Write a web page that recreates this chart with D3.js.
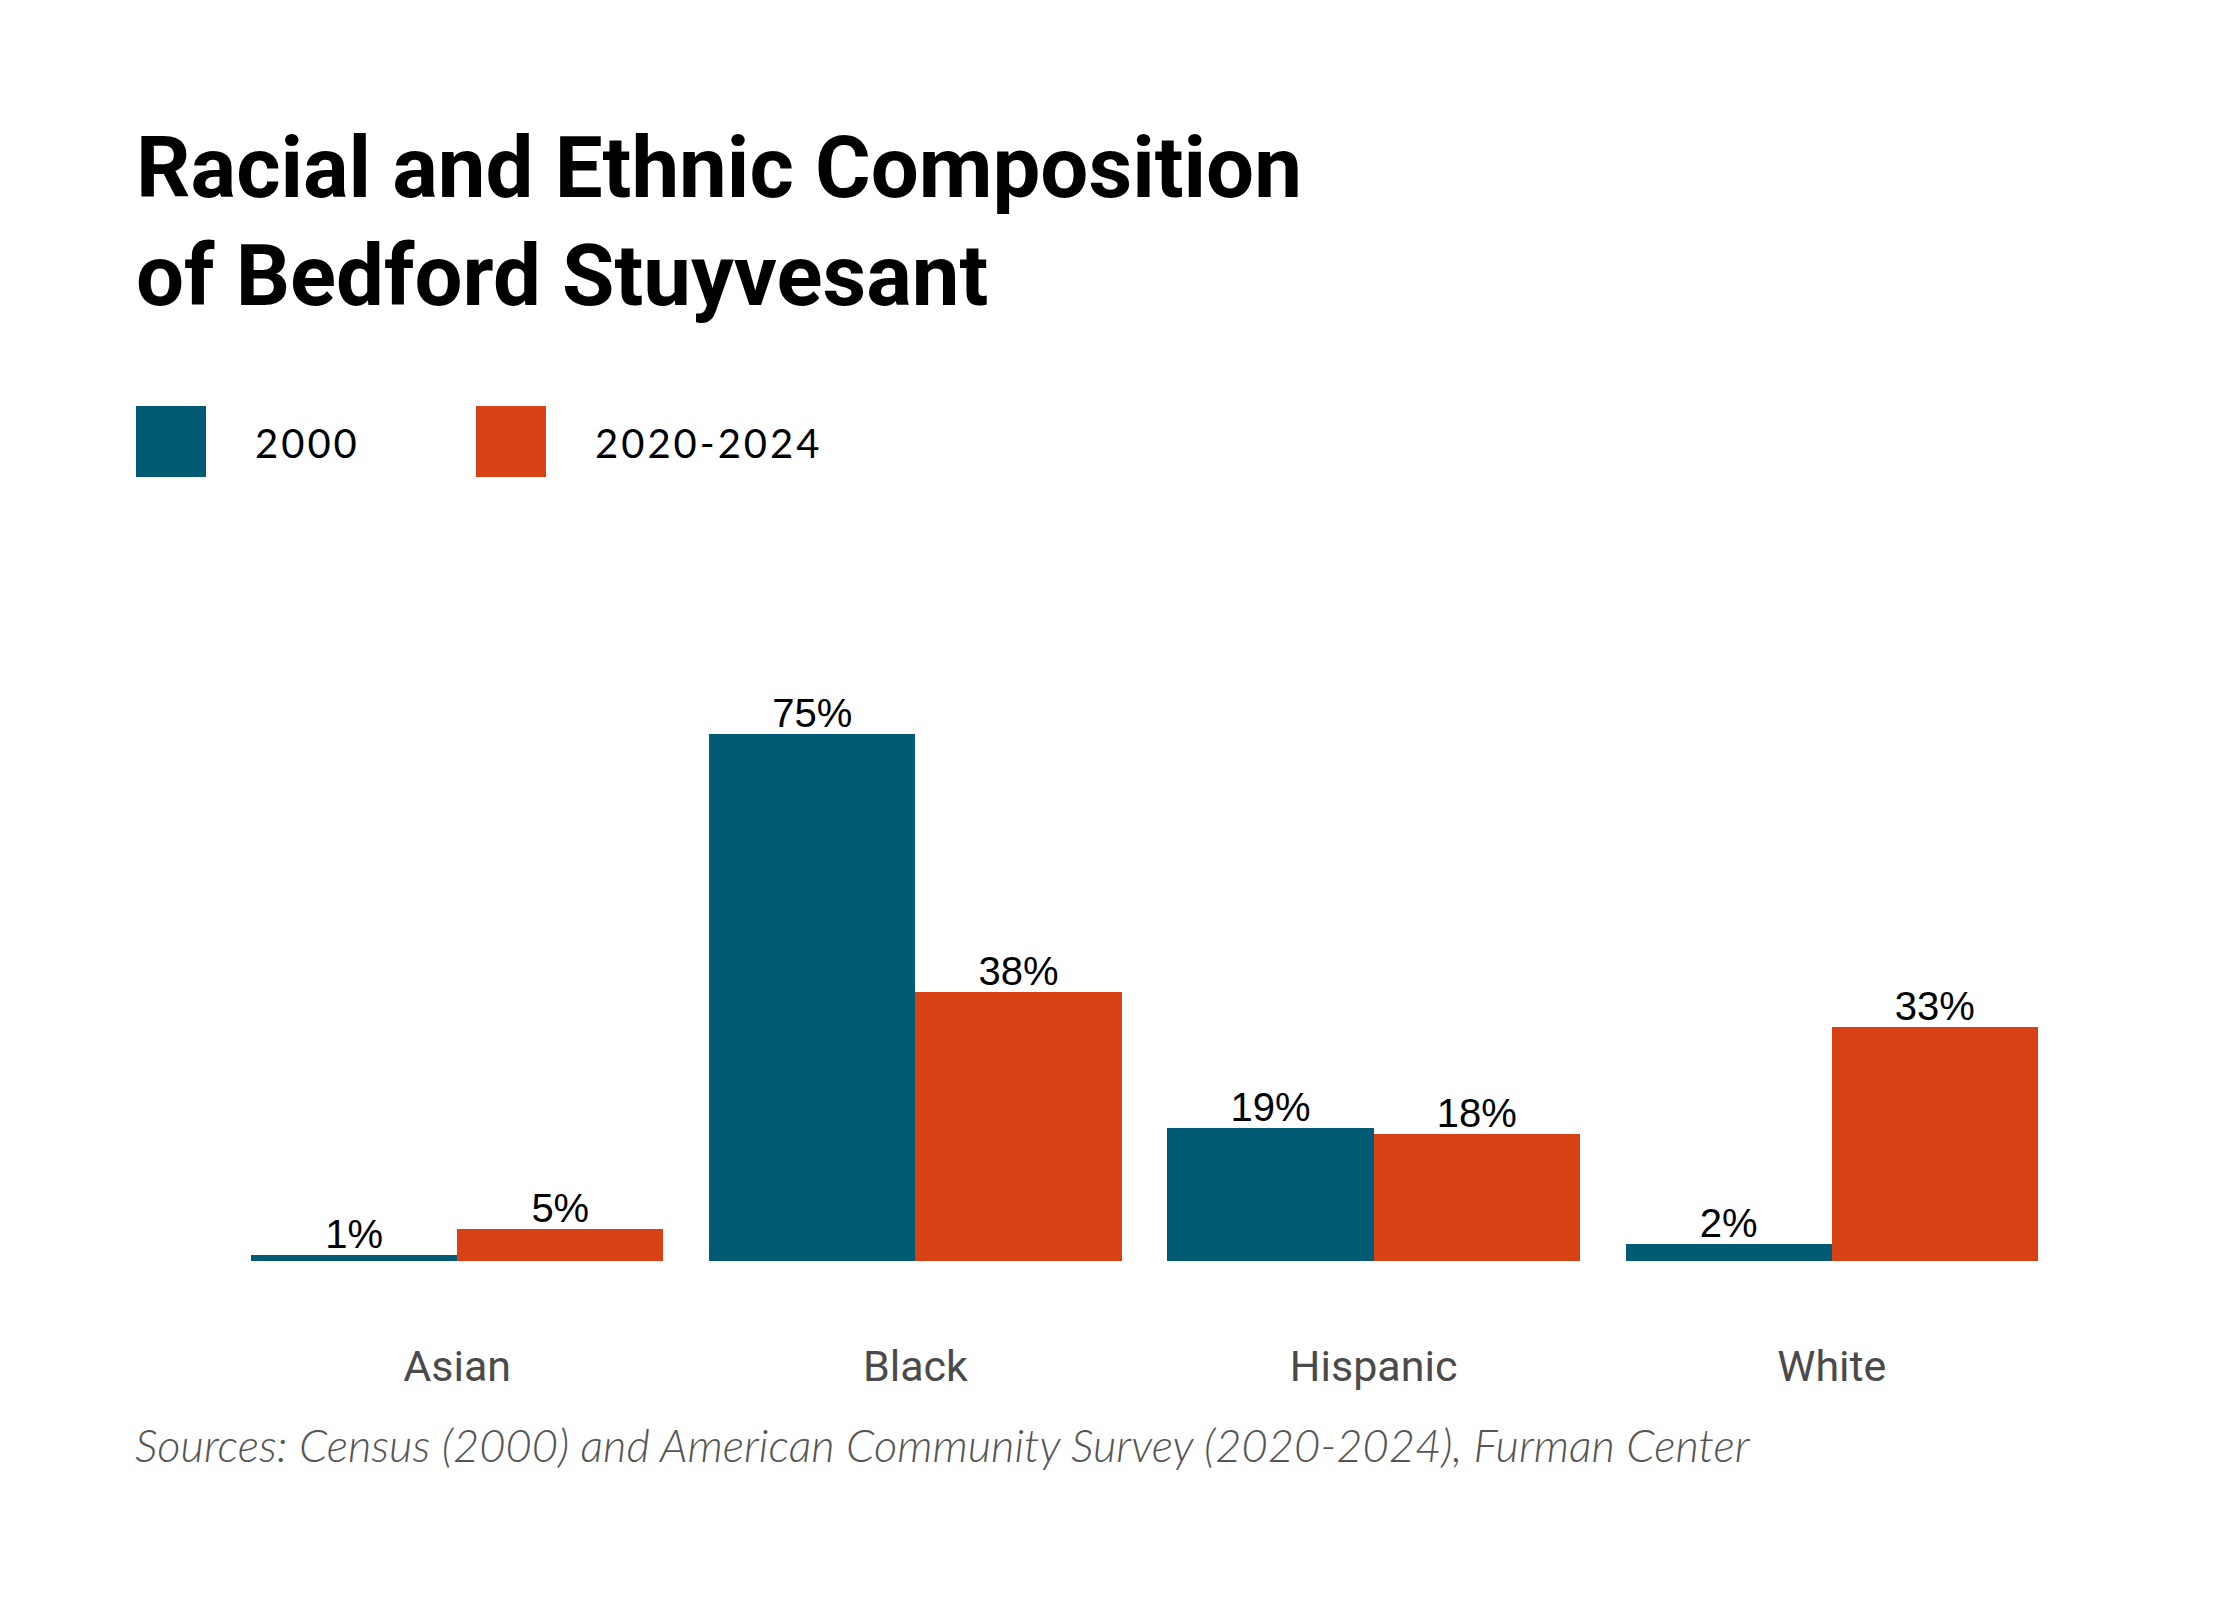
<!DOCTYPE html>
<html>
<head>
<meta charset="utf-8">
<script src="https://cdn.jsdelivr.net/npm/d3@7"></script>
<style>
  body { margin: 0; background: #fff; }
</style>
</head>
<body>
<div id="chart"></div>
<script>
// data
const categories = ['Asian', 'Black', 'Hispanic', 'White'];
const seriesNames = ['2000', '2020-2024'];
const values2000 = [0.8, 75.1, 19.0, 2.4];
const values2020 = [4.6, 38.3, 18.1, 33.4];
const titleLines = ['Racial and Ethnic Composition', 'of Bedford Stuyvesant'];
const sourceText = 'Sources: Census (2000) and American Community Survey (2020-2024), Furman Center';

const colors = ['#015b75', '#d84113'];
const W = 2240, H = 1600;

const svg = d3.select('#chart')
	.append('svg')
	.attr('width', W)
	.attr('height', H)
	.style('font-family', 'Roboto, sans-serif');

// scale a text's font size so it spans a given width
function fitWidth(sel, target) {
	const w = sel.node().getComputedTextLength();
	const fs = parseFloat(sel.attr('font-size'));
	sel.attr('font-size', fs * target / w);
	return fs * target / w;
}

//title
const t1 = svg.append('text')
	.attr('x', 136)
	.attr('y', 197)
	.attr('font-size', 80)
	.attr('font-weight', 700)
	.attr('fill', '#000')
	.text(titleLines[0]);
const titleSize = fitWidth(t1, 1166);

svg.append('text')
	.attr('x', 136)
	.attr('y', 305)
	.attr('font-size', titleSize)
	.attr('font-weight', 700)
	.attr('fill', '#000')
	.text(titleLines[1]);

//legend
const legendX = [136, 476];
const legend = svg.selectAll('.legend')
	.data(seriesNames)
	.join('g')
	.attr('class', 'legend')
	.attr('transform', (d, i) => 'translate(' + legendX[i] + ',406)');

legend.append('rect')
	.attr('width', 70)
	.attr('height', 71)
	.attr('fill', (d, i) => colors[i]);

legend.append('text')
	.attr('x', 119)
	.attr('y', 52)
	.attr('font-family', 'Lato, sans-serif')
	.attr('font-size', 40)
	.style('letter-spacing', '3px')
	.attr('fill', '#000')
	.text(d => d);

//scales
const x = d3.scaleBand()
	.domain(categories)
	.range([251, 2038])
	.paddingInner(0.1)
	.paddingOuter(0);

const x1 = d3.scaleBand()
	.domain(seriesNames)
	.range([0, x.bandwidth()]);

const y = d3.scaleLinear()
	.domain([0, 100])
	.range([1261, 559]);

const rows = categories.map((c, i) => ({
	category: c,
	values: [
		{ series: seriesNames[0], value: values2000[i] },
		{ series: seriesNames[1], value: values2020[i] }
	]
}));

const groups = svg.selectAll('.group')
	.data(rows)
	.join('g')
	.attr('class', 'group')
	.attr('transform', d => 'translate(' + x(d.category) + ',0)');

groups.selectAll('rect')
	.data(d => d.values)
	.join('rect')
	.attr('x', d => x1(d.series))
	.attr('y', d => y(d.value))
	.attr('width', x1.bandwidth())
	.attr('height', d => y(0) - y(d.value))
	.attr('fill', (d, i) => colors[i])
	.attr('shape-rendering', 'crispEdges');

const fmt = d3.format('.0f');
groups.selectAll('.label')
	.data(d => d.values)
	.join('text')
	.attr('class', 'label')
	.attr('x', d => x1(d.series) + x1.bandwidth() / 2)
	.attr('y', d => y(d.value) - 7)
	.attr('text-anchor', 'middle')
	.attr('font-family', '"Liberation Sans", Arial, sans-serif')
	.attr('font-size', 40)
	.attr('fill', '#000')
	.text(d => fmt(d.value) + '%');

//category axis, no line or ticks
const xAxis = svg.append('g')
	.attr('transform', 'translate(0,1261)')
	.call(d3.axisBottom(x).tickSize(0).tickPadding(0));

xAxis.select('.domain').remove();
xAxis.selectAll('text')
	.attr('dy', null)
	.attr('y', 120)
	.attr('font-family', 'Roboto, sans-serif')
	.attr('font-size', 43)
	.attr('fill', '#4a4a4a');

//sources
const src = svg.append('text')
	.attr('x', 135)
	.attr('y', 1462)
	.attr('font-family', 'Lato, sans-serif')
	.attr('font-style', 'italic')
	.attr('font-weight', 300)
	.attr('font-size', 44)
	.attr('fill', '#555')
	.text(sourceText);
fitWidth(src, 1615);
</script>
</body>
</html>
